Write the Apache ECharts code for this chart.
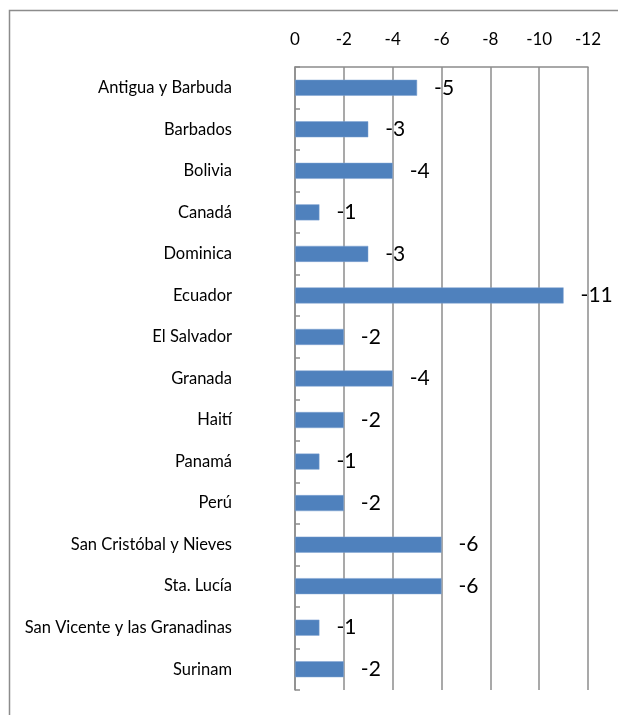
<!DOCTYPE html>
<html>
<head>
<meta charset="utf-8">
<script src="https://cdn.jsdelivr.net/npm/echarts@6/dist/echarts.min.js"></script>
<style>
html,body{margin:0;padding:0;background:#fff;}
#chart{width:618px;height:715px;}
</style>
</head>
<body>
<div id="chart"></div>
<script>
var categories = ["Antigua y Barbuda","Barbados","Bolivia","Canadá","Dominica","Ecuador","El Salvador","Granada","Haití","Panamá","Perú","San Cristóbal y Nieves","Sta. Lucía","San Vicente y las Granadinas","Surinam"];
var values = [-5,-3,-4,-1,-3,-11,-2,-4,-2,-1,-2,-6,-6,-1,-2];
var axisMin = -12, axisMax = 0, axisStep = 2;

var chart = echarts.init(document.getElementById('chart'));
chart.setOption({
  animation: false,
  backgroundColor: '#fff',
  graphic: [{
    type: 'rect',
    shape: {x: 9.5, y: 10.5, width: 700, height: 800},
    style: {fill: 'none', stroke: '#8c8c8c', lineWidth: 1.5},
    silent: true
  }],
  grid: {left: 295, right: 30, top: 67, bottom: 25, containLabel: false},
  xAxis: {
    type: 'value',
    position: 'top',
    inverse: true,
    min: axisMin, max: axisMax, interval: axisStep,
    axisLine: {show: true, lineStyle: {color: '#8c8c8c', width: 1.5}},
    axisTick: {show: false},
    splitLine: {show: true, lineStyle: {color: '#8c8c8c', width: 1.5}},
    axisLabel: {color: '#000', fontSize: 17, fontFamily: 'Lato', margin: 19}
  },
  yAxis: {
    type: 'category',
    inverse: true,
    data: categories,
    axisLine: {show: true, lineStyle: {color: '#8c8c8c', width: 1.5}},
    axisTick: {show: true, inside: true, length: 5, lineStyle: {color: '#8c8c8c', width: 1.5}},
    axisLabel: {color: '#000', fontSize: 16.5, fontFamily: 'Lato', margin: 63}
  },
  series: [{
    type: 'bar',
    data: values,
    barWidth: 16,
    itemStyle: {color: '#4F81BD', borderColor: '#7fa3d3', borderWidth: 0.5},
    label: {
      show: true,
      position: 'right',
      distance: 17,
      color: '#000',
      fontSize: 21,
      fontFamily: 'Lato'
    }
  }]
});
</script>
</body>
</html>
